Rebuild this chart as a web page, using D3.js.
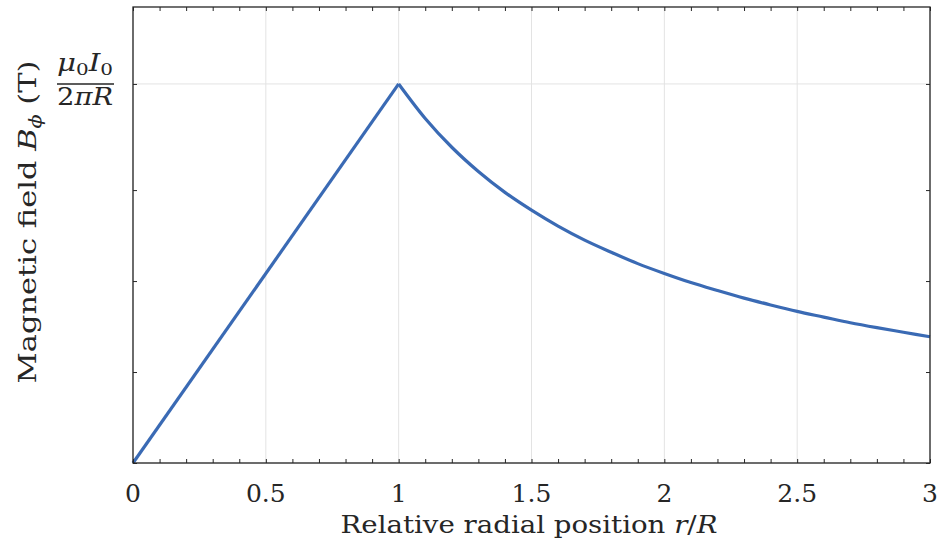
<!DOCTYPE html>
<html><head><meta charset="utf-8">
<script src="https://cdn.jsdelivr.net/npm/d3@7"></script>
<style>body{margin:0;background:#fff}svg{display:block}</style>
</head><body><svg id="c" width="942" height="552" font-family="'DejaVu Serif', 'Liberation Serif', serif"></svg>
<script>
// Data (B normalised to mu0 I0 / (2 pi R))
const riseR = [0, 1];
const riseB = [0, 1];
const decayR = [1.0,1.1,1.2,1.3,1.4,1.5,1.6,1.7,1.8,1.9,2.0,2.1,2.2,2.3,2.4,2.5,2.6,2.7,2.8,2.9,3.0];
const decayB = [1,0.909,0.833,0.769,0.714,0.667,0.625,0.588,0.556,0.526,0.5,0.476,0.455,0.435,0.417,0.4,0.385,0.370,0.357,0.345,0.333];
const xTicks = [0, 0.5, 1, 1.5, 2, 2.5, 3];
const xTickLabels = ["0", "0.5", "1", "1.5", "2", "2.5", "3"];
const xMinor = d3.range(0, 31).map(i => i / 10);
const yMajor = [0, 1];
const yMinor = [0.24, 0.48, 0.72];

const svg = d3.select("#c");
const L = 133, R = 930, T = 7, B = 463;
const x = d3.scaleLinear().domain([0, 3]).range([L, R]);
const y = d3.scaleLinear().domain([0, 1.203]).range([B, T]);
const axisCol = "#262626";

// grid
const g = svg.append("g");
g.selectAll(".vg").data(xTicks).join("line")
  .attr("x1", d => x(d)).attr("x2", d => x(d)).attr("y1", T).attr("y2", B)
  .attr("stroke", "#e3e3e3").attr("stroke-width", 1);
g.selectAll(".hg").data(yMajor).join("line")
  .attr("y1", d => y(d)).attr("y2", d => y(d)).attr("x1", L).attr("x2", R)
  .attr("stroke", "#e3e3e3").attr("stroke-width", 1);

// lines
const line = d3.line().x(d => x(d[0])).y(d => y(d[1]));
svg.append("path").datum(riseR.map((r, i) => [r, riseB[i]]))
  .attr("d", line).attr("fill", "none").attr("stroke", "#3a6ab4").attr("stroke-width", 3.2);
svg.append("path").datum(decayR.map((r, i) => [r, decayB[i]]))
  .attr("d", line.curve(d3.curveMonotoneX)).attr("fill", "none").attr("stroke", "#3a6ab4").attr("stroke-width", 3.2);

// axes frame with ticks
const tl = 4;
const axB = svg.append("g").attr("transform", `translate(0,${B})`)
  .call(d3.axisBottom(x).tickValues(xMinor).tickSize(-tl).tickFormat(""));
const axT = svg.append("g").attr("transform", `translate(0,${T})`)
  .call(d3.axisTop(x).tickValues(xMinor).tickSize(-tl).tickFormat(""));
const yT = yMajor.concat(yMinor);
const axL = svg.append("g").attr("transform", `translate(${L},0)`)
  .call(d3.axisLeft(y).tickValues(yT).tickSize(-tl).tickFormat(""));
const axR = svg.append("g").attr("transform", `translate(${R},0)`)
  .call(d3.axisRight(y).tickValues(yT).tickSize(-tl).tickFormat(""));
[axB, axT, axL, axR].forEach(a => {
  a.select(".domain").remove();
  a.selectAll("line").attr("stroke", axisCol).attr("stroke-width", 1);
});
svg.append("rect").attr("x", L).attr("y", T).attr("width", R - L).attr("height", B - T)
  .attr("fill", "none").attr("stroke", axisCol).attr("stroke-width", 1.3);

const tc = "#262626";
// x tick labels
svg.selectAll(".xl").data(xTicks).join("text")
  .attr("x", d => x(d)).attr("y", 502).attr("text-anchor", "middle").attr("fill", tc)
  .attr("font-size", 25).text((d, i) => xTickLabels[i]);

// x label
const xl = svg.append("text").attr("x", 529).attr("y", 533).attr("text-anchor", "middle")
  .attr("font-size", 25).attr("fill", tc).attr("textLength", 377).attr("lengthAdjust", "spacingAndGlyphs");
xl.append("tspan").text("Relative radial position ");
xl.append("tspan").attr("font-style", "italic").text("r");
xl.append("tspan").text("/");
xl.append("tspan").attr("font-style", "italic").text("R");

// y label
const yl = svg.append("text").attr("transform", "translate(36,222) rotate(-90)").attr("text-anchor", "middle")
  .attr("font-size", 25).attr("fill", tc).attr("textLength", 323).attr("lengthAdjust", "spacingAndGlyphs");
yl.append("tspan").text("Magnetic field ");
yl.append("tspan").attr("font-style", "italic").text("B");
yl.append("tspan").attr("font-style", "italic").attr("font-size", 17).attr("dy", 5).text("ϕ");
yl.append("tspan").attr("dy", -5).text(" (T)");

// peak tick label (fraction)
const fx = 85;
const num = svg.append("text").attr("x", fx).attr("y", 71).attr("text-anchor", "middle").attr("font-size", 25).attr("fill", tc)
  .attr("textLength", 56).attr("lengthAdjust", "spacingAndGlyphs");
num.append("tspan").attr("font-style", "italic").text("μ");
num.append("tspan").attr("font-size", 17).attr("dy", 4).text("0");
num.append("tspan").attr("font-style", "italic").attr("dy", -4).text("I");
num.append("tspan").attr("font-size", 17).attr("dy", 4).text("0");
svg.append("line").attr("x1", 57).attr("x2", 114).attr("y1", y(1)).attr("y2", y(1))
  .attr("stroke", axisCol).attr("stroke-width", 1.6);
const den = svg.append("text").attr("x", fx).attr("y", 105).attr("text-anchor", "middle").attr("font-size", 25).attr("fill", tc)
  .attr("textLength", 56).attr("lengthAdjust", "spacingAndGlyphs");
den.append("tspan").text("2");
den.append("tspan").attr("font-style", "italic").text("πR");
</script></body></html>
